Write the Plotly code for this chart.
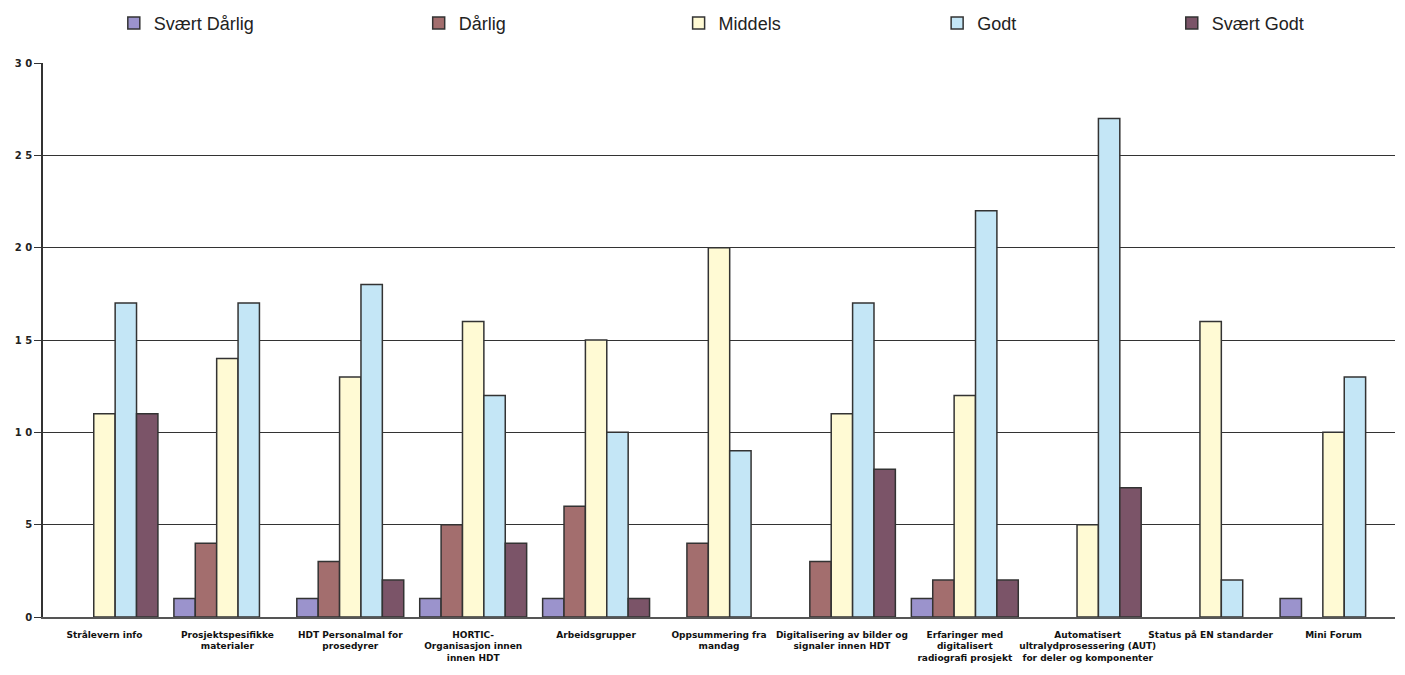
import plotly.graph_objects as go

categories = [
    "Strålevern info",
    "Prosjektspesifikke<br>materialer",
    "HDT Personalmal for<br>prosedyrer",
    "HORTIC-<br>Organisasjon innen<br>innen HDT",
    "Arbeidsgrupper",
    "Oppsummering fra<br>mandag",
    "Digitalisering av bilder og<br>signaler innen HDT",
    "Erfaringer med<br>digitalisert<br>radiografi prosjekt",
    "Automatisert<br>ultralydprosessering (AUT)<br>for deler og komponenter",
    "Status på EN standarder",
    "Mini Forum",
]

series_names = ["Svært Dårlig", "Dårlig", "Middels", "Godt", "Svært Godt"]
svaert_darlig = [0, 1, 1, 1, 1, 0, 0, 1, 0, 0, 1]
darlig = [0, 4, 3, 5, 6, 4, 3, 2, 0, 0, 0]
middels = [11, 14, 13, 16, 15, 20, 11, 12, 5, 16, 10]
godt = [17, 17, 18, 12, 10, 9, 17, 22, 27, 2, 13]
svaert_godt = [11, 0, 2, 4, 1, 0, 8, 2, 7, 0, 0]

colors = ["#9b93cc", "#a36e6e", "#fffad4", "#c4e6f6", "#7b5468"]

y_ticks = [0, 5, 10, 15, 20, 25, 30]
y_tick_labels = ["0", "5", "1 0", "1 5", "2 0", "2 5", "3 0"]

# one legend box per series so each entry sits at its own place along the top
legend_ids = ["legend", "legend2", "legend3", "legend4", "legend5"]
legend_x = [0.081, 0.298, 0.483, 0.667, 0.834]

fig = go.Figure()
for name, vals, col, lid in zip(series_names,
                                [svaert_darlig, darlig, middels, godt, svaert_godt],
                                colors, legend_ids):
    # zero counts are left empty so no flat outline is drawn on the baseline
    shown = [v if v != 0 else None for v in vals]
    fig.add_trace(go.Bar(
        name=name,
        x=categories,
        y=shown,
        legend=lid,
        showlegend=True,
        marker=dict(color=col, line=dict(color="#333333", width=1.5)),
    ))

legend_style = dict(
    orientation="h",
    xref="container", yref="container",
    xanchor="left",
    y=0.993, yanchor="top",
    font=dict(size=18, color="#222222"),
    bgcolor="rgba(0,0,0,0)",
)

fig.update_layout(
    width=1405,
    height=675,
    showlegend=True,
    barmode="group",
    bargap=0.13,
    bargroupgap=0,
    plot_bgcolor="white",
    paper_bgcolor="white",
    margin=dict(l=43, r=10, t=63, b=58, autoexpand=False),
    font=dict(family="Liberation Sans, Arial, sans-serif", color="#222222"),
    xaxis=dict(
        showline=True,
        linecolor="#555555",
        linewidth=1.5,
        tickfont=dict(size=9, color="#111111", family="DejaVu Sans, sans-serif", weight="bold"),
        tickangle=0,
        ticks="",
        ticklabelstandoff=8,
        automargin=False,
    ),
    yaxis=dict(
        range=[0, 30],
        tickvals=y_ticks,
        ticktext=y_tick_labels,
        showgrid=True,
        gridcolor="#333333",
        gridwidth=1.3,
        showline=True,
        linecolor="#333333",
        linewidth=1.5,
        ticks="outside",
        ticklen=7,
        tickcolor="#333333",
        tickfont=dict(size=10, color="#222222", family="DejaVu Sans, sans-serif", weight="bold"),
        zeroline=False,
        automargin=False,
    ),
)
for lid, lx in zip(legend_ids, legend_x):
    fig.update_layout({lid: dict(legend_style, x=lx)})

fig.write_html("out.html")
